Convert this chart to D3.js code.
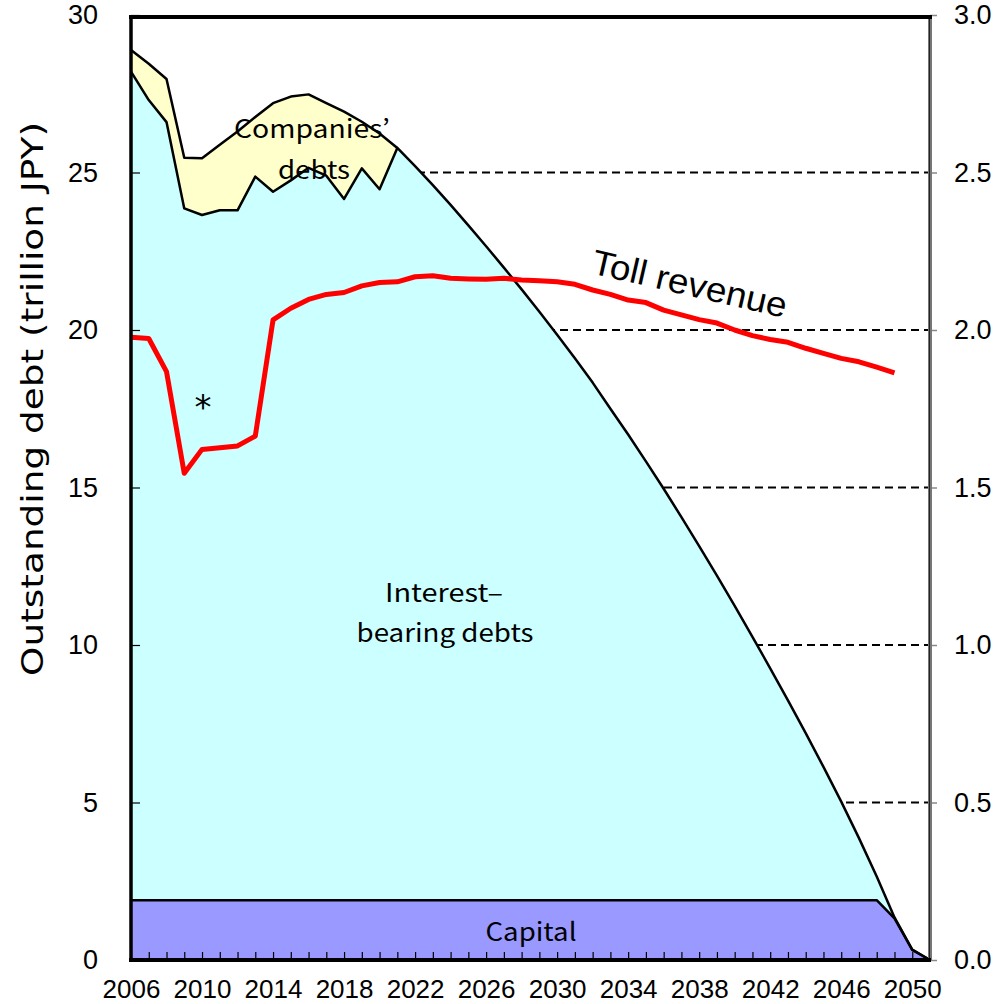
<!DOCTYPE html>
<html>
<head>
<meta charset="utf-8">
<script src="https://cdn.jsdelivr.net/npm/d3@7"></script>
<style>
  html, body { margin: 0; padding: 0; background: #fff; }
  svg { display: block; }
</style>
</head>
<body>
<svg id="chart" width="996" height="1004"></svg>
<script>
// ---- Data ----
const years = [2006, 2007, 2008, 2009, 2010, 2011, 2012, 2013, 2014, 2015,
  2016, 2017, 2018, 2019, 2020, 2021, 2022, 2023, 2024, 2025,
  2026, 2027, 2028, 2029, 2030, 2031, 2032, 2033, 2034, 2035,
  2036, 2037, 2038, 2039, 2040, 2041, 2042, 2043, 2044, 2045,
  2046, 2047, 2048, 2049, 2050, 2051];

// trillion JPY, stacked bottom to top
const capital = [1.9, 1.9, 1.9, 1.9, 1.9, 1.9, 1.9, 1.9, 1.9, 1.9,
  1.9, 1.9, 1.9, 1.9, 1.9, 1.9, 1.9, 1.9, 1.9, 1.9,
  1.9, 1.9, 1.9, 1.9, 1.9, 1.9, 1.9, 1.9, 1.9, 1.9,
  1.9, 1.9, 1.9, 1.9, 1.9, 1.9, 1.9, 1.9, 1.9, 1.9,
  1.9, 1.9, 1.9, 1.32, 0.32, 0];

const interestBearing = [26.3, 25.4, 24.7, 21.96, 21.75, 21.9, 21.9, 22.97, 22.49, 22.85,
  23.25, 23.0, 22.26, 23.23, 22.57, 23.88, 23.3, 22.7, 22.07, 21.42,
  20.76, 20.08, 19.39, 18.68, 17.95, 17.2, 16.43, 15.6, 14.78, 13.93,
  13.06, 12.16, 11.24, 10.3, 9.34, 8.36, 7.36, 6.34, 5.3, 4.23,
  3.13, 1.97, 0.75, 0.03, 0.01, 0];

const companies = [0.69, 1.15, 1.37, 1.61, 1.8, 2.08, 2.5, 1.89, 2.81, 2.66,
  2.33, 2.3, 2.77, 1.48, 1.77, 0, 0, 0, 0, 0,
  0, 0, 0, 0, 0, 0, 0, 0, 0, 0,
  0, 0, 0, 0, 0, 0, 0, 0, 0, 0,
  0, 0, 0, 0, 0, 0];

// trillion JPY per year (right axis)
const revenueYears = [2006, 2007, 2008, 2009, 2010, 2011, 2012, 2013, 2014, 2015,
  2016, 2017, 2018, 2019, 2020, 2021, 2022, 2023, 2024, 2025,
  2026, 2027, 2028, 2029, 2030, 2031, 2032, 2033, 2034, 2035,
  2036, 2037, 2038, 2039, 2040, 2041, 2042, 2043, 2044, 2045,
  2046, 2047, 2048, 2049];
const tollRevenue = [1.977, 1.973, 1.868, 1.545, 1.621, 1.626, 1.632, 1.663, 2.032, 2.069,
  2.097, 2.113, 2.119, 2.14, 2.151, 2.153, 2.169, 2.172, 2.164, 2.162,
  2.161, 2.164, 2.159, 2.156, 2.153, 2.145, 2.127, 2.113, 2.095, 2.087,
  2.063, 2.048, 2.033, 2.022, 2.0, 1.982, 1.97, 1.961, 1.942, 1.926,
  1.91, 1.899, 1.882, 1.864];

const leftTicks = [0, 5, 10, 15, 20, 25, 30];
const rightTicks = [0, 0.5, 1.0, 1.5, 2.0, 2.5, 3.0];
const xLabelYears = [2006, 2010, 2014, 2018, 2022, 2026, 2030, 2034, 2038, 2042, 2046, 2050];

// ---- Layout ----
const L = 131, R = 930, T = 15, B = 960;
const svg = d3.select("#chart");
const x = d3.scaleLinear().domain([2006, 2051]).range([L, R]);
const yL = d3.scaleLinear().domain([0, 30]).range([B, T]);
const yR = d3.scaleLinear().domain([0, 3]).range([B, T]);

const latin = "'Liberation Sans', Arial, sans-serif";
const gothic = "'Noto Sans CJK JP', 'Noto Sans', sans-serif";

// dashed gridlines (behind areas)
svg.append("g").selectAll("line")
  .data([5, 10, 15, 20, 25])
  .join("line")
  .attr("x1", L).attr("x2", R)
  .attr("y1", d => yL(d)).attr("y2", d => yL(d))
  .attr("stroke", "#000").attr("stroke-width", 2)
  .attr("stroke-dasharray", "8,5");

// stacked areas
const rows = years.map((yr, i) => ({
  year: yr, capital: capital[i], interest: interestBearing[i], companies: companies[i]
}));
const keys = ["capital", "interest", "companies"];
const fills = { capital: "#9999FF", interest: "#CCFFFF", companies: "#FFFFCC" };
const stacked = d3.stack().keys(keys)(rows);

const area = d3.area()
  .x(d => x(d.data.year))
  .y0(d => yL(d[0]))
  .y1(d => yL(d[1]));
const topLine = d3.line()
  .x(d => x(d.data.year))
  .y(d => yL(d[1]));

const gA = svg.append("g");
stacked.slice().reverse().forEach(layer => {
  gA.append("path").datum(layer)
    .attr("d", area)
    .attr("fill", fills[layer.key]);
});
stacked.slice().reverse().forEach(layer => {
  let data = layer;
  if (layer.key === "companies") data = layer.filter(d => d.data.year <= 2021);
  gA.append("path").datum(data)
    .attr("d", topLine)
    .attr("fill", "none")
    .attr("stroke", "#000")
    .attr("stroke-width", 2.5)
    .attr("stroke-linejoin", "round");
});

// toll revenue line
const revLine = d3.line()
  .x((d, i) => x(revenueYears[i]))
  .y(d => yR(d));
svg.append("path").datum(tollRevenue)
  .attr("d", revLine)
  .attr("fill", "none")
  .attr("stroke", "#FF0000")
  .attr("stroke-width", 5)
  .attr("stroke-linejoin", "round");

// ---- Axes ----
const xAxis = d3.axisBottom(x)
  .tickValues(years)
  .tickSize(-8)
  .tickPadding(20)
  .tickFormat(d => xLabelYears.includes(d) ? String(d) : "");
const gx = svg.append("g").attr("transform", `translate(0,${B})`).call(xAxis);
gx.select(".domain").remove();
gx.selectAll("line").attr("stroke", "#000").attr("stroke-width", 1.2);
gx.selectAll("text").attr("font-family", latin).attr("font-size", 26).attr("fill", "#000");

const yAxisL = d3.axisLeft(yL).tickValues(leftTicks).tickSize(-9).tickPadding(33)
  .tickFormat(d3.format("d"));
const gyl = svg.append("g").attr("transform", `translate(${L},0)`).call(yAxisL);
gyl.select(".domain").remove();
gyl.selectAll("line").attr("stroke", "#000").attr("stroke-width", 1.2);
gyl.selectAll("text").attr("font-family", latin).attr("font-size", 27).attr("fill", "#000");

const yAxisR = d3.axisRight(yR).tickValues(rightTicks).tickSize(7).tickPadding(17)
  .tickFormat(d3.format(".1f"));
const gyr = svg.append("g").attr("transform", `translate(${R},0)`).call(yAxisR);
gyr.select(".domain").remove();
gyr.selectAll("line").attr("stroke", "#888").attr("stroke-width", 1.5);
gyr.selectAll("text").attr("font-family", latin).attr("font-size", 27).attr("fill", "#000");

// frame lines
svg.append("line").attr("x1", R).attr("x2", R).attr("y1", T).attr("y2", B)
  .attr("stroke", "#777").attr("stroke-width", 4);
svg.append("line").attr("x1", R - 0.5).attr("x2", R - 0.5).attr("y1", T).attr("y2", B)
  .attr("stroke", "#222").attr("stroke-width", 1);
svg.append("line").attr("x1", L - 2).attr("x2", R + 2).attr("y1", T + 2).attr("y2", T + 2)
  .attr("stroke", "#000").attr("stroke-width", 4);
svg.append("line").attr("x1", L).attr("x2", L).attr("y1", T).attr("y2", B)
  .attr("stroke", "#000").attr("stroke-width", 3.5);
svg.append("line").attr("x1", L - 2).attr("x2", R + 1).attr("y1", B).attr("y2", B)
  .attr("stroke", "#000").attr("stroke-width", 4);

// axis title
svg.append("text")
  .attr("transform", "translate(43,399) rotate(-90)")
  .attr("text-anchor", "middle")
  .attr("font-family", "'DejaVu Sans', sans-serif")
  .attr("font-size", 30)
  .attr("textLength", 554)
  .attr("lengthAdjust", "spacingAndGlyphs")
  .text("Outstanding debt (trillion JPY)");

// annotations
const ann = svg.append("g").attr("font-family", gothic).attr("fill", "#000")
  .attr("font-size", 25);
function note(txt, cx, by, len) {
  ann.append("text").attr("x", cx).attr("y", by).attr("text-anchor", "middle")
    .attr("textLength", len).attr("lengthAdjust", "spacingAndGlyphs").text(txt);
}
note("Companies’", 312, 138, 156);
note("debts", 314, 179, 72);
note("Interest–", 444, 602, 118);
note("bearing debts", 445, 642, 177);
note("Capital", 531, 941, 91);

svg.append("text").attr("x", 203).attr("y", 419).attr("text-anchor", "middle")
  .attr("font-family", "'DejaVu Sans', sans-serif").attr("font-size", 34)
  .attr("fill", "#000").text("*");

svg.append("text")
  .attr("transform", "translate(590,273) rotate(13)")
  .attr("font-family", latin)
  .attr("font-size", 35)
  .attr("textLength", 199)
  .attr("lengthAdjust", "spacingAndGlyphs")
  .attr("fill", "#000")
  .text("Toll revenue");
</script>
</body>
</html>
